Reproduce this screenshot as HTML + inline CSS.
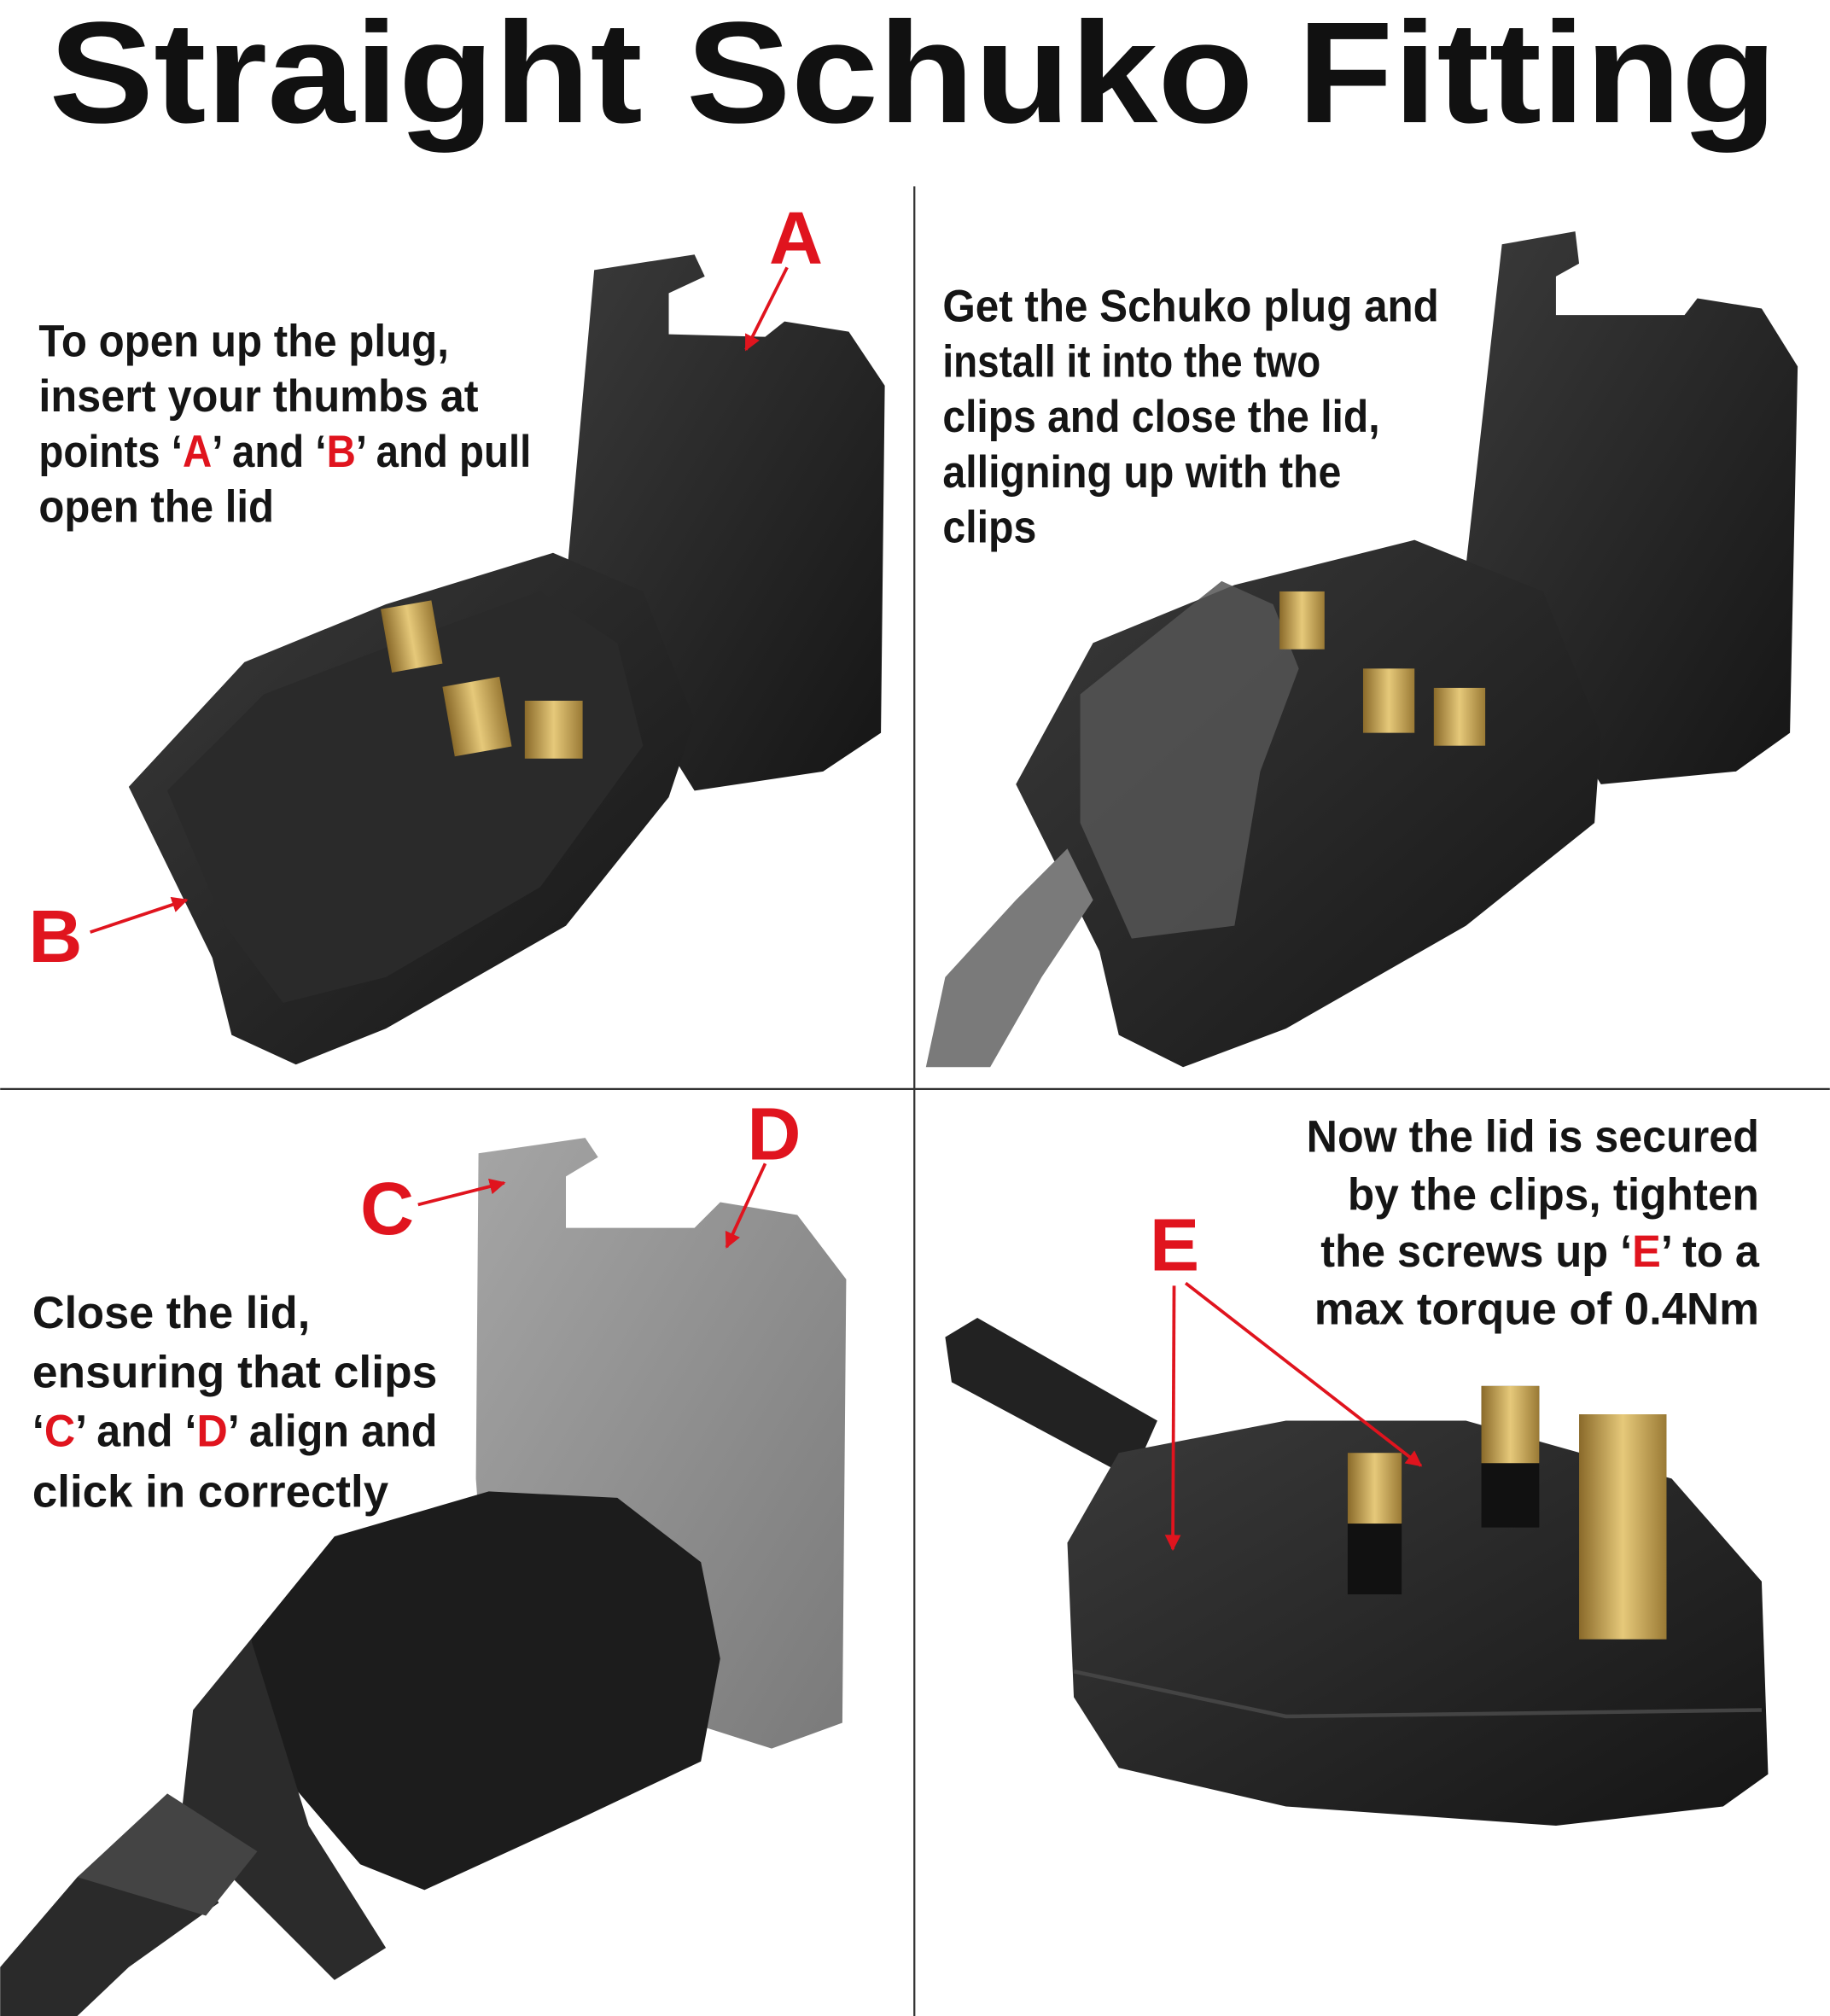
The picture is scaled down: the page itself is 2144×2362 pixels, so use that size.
<!DOCTYPE html>
<html><head><meta charset="utf-8"><style>
html,body{margin:0;padding:0;background:#fff;}
svg{display:block}
.t{font-family:"Liberation Sans",sans-serif;font-size:35px;font-weight:bold;fill:#151515;}
.r{fill:#e0141e}
.L{font-family:"Liberation Sans",sans-serif;font-weight:bold;font-size:58px;fill:#e0141e;}
</style></head><body>
<svg width="2144" height="2362" viewBox="0 0 1423 1568" xmlns="http://www.w3.org/2000/svg">
<defs>
<marker id="ah" viewBox="0 0 10 10" refX="9" refY="5" markerWidth="5" markerHeight="5" orient="auto"><path d="M0,0L10,5L0,10z" fill="#e0141e"/></marker>
<linearGradient id="dk" x1="0" y1="0" x2="1" y2="1"><stop offset="0" stop-color="#3a3a3a"/><stop offset="1" stop-color="#151515"/></linearGradient>
<linearGradient id="gr" x1="0" y1="0" x2="1" y2="1"><stop offset="0" stop-color="#a5a5a5"/><stop offset="1" stop-color="#7a7a7a"/></linearGradient>
<linearGradient id="gd" x1="0" y1="0" x2="1" y2="0"><stop offset="0" stop-color="#8a6a2a"/><stop offset=".5" stop-color="#e6c97a"/><stop offset="1" stop-color="#9a7a35"/></linearGradient>
</defs>
<rect width="1423" height="1568" fill="#fff"/>
<text x="38" y="95" font-family="Liberation Sans,sans-serif" font-weight="bold" font-size="112" fill="#111" textLength="1344" lengthAdjust="spacingAndGlyphs">Straight Schuko Fitting</text>
<line x1="711" y1="145" x2="711" y2="1568" stroke="#333" stroke-width="1.5"/>
<line x1="0" y1="847" x2="1423" y2="847" stroke="#333" stroke-width="1.5"/>

<path d="M462,210 L540,198 L548,215 L520,228 L520,260 L595,262 L610,250 L660,258 L688,300 L685,570 L640,600 L540,615 L440,455 Z" fill="url(#dk)"/>
<path d="M100,612 L190,515 L300,470 L430,430 L500,460 L540,560 L520,620 L440,720 L300,800 L230,828 L180,805 L165,745 Z" fill="url(#dk)"/>
<path d="M130,615 L205,540 L310,500 L420,460 L480,500 L500,580 L420,690 L300,760 L220,780 L175,720 Z" fill="#2a2a2a"/>
<rect x="300" y="470" width="40" height="50" fill="url(#gd)" transform="rotate(-10 320 495)"/>
<rect x="348" y="530" width="45" height="55" fill="url(#gd)" transform="rotate(-10 370 555)"/>
<rect x="408" y="545" width="45" height="45" fill="url(#gd)"/>

<path d="M1168,190 L1225,180 L1228,205 L1210,215 L1210,245 L1310,245 L1320,232 L1370,240 L1398,285 L1392,570 L1350,600 L1245,610 L1140,440 Z" fill="url(#dk)"/>
<path d="M790,610 L850,500 L960,455 L1100,420 L1200,460 L1245,570 L1240,640 L1140,720 L1000,800 L920,830 L870,805 L855,740 Z" fill="url(#dk)"/>
<path d="M840,540 L950,452 L990,470 L1010,520 L980,600 L960,720 L880,730 L840,640 Z" fill="#555" opacity=".85"/>
<path d="M720,830 L735,760 L790,700 L830,660 L850,700 L810,760 L770,830 Z" fill="#7a7a7a"/>
<rect x="995" y="460" width="35" height="45" fill="url(#gd)"/>
<rect x="1060" y="520" width="40" height="50" fill="url(#gd)"/>
<rect x="1115" y="535" width="40" height="45" fill="url(#gd)"/>

<path d="M372,897 L455,885 L465,900 L440,915 L440,955 L540,955 L560,935 L620,945 L658,995 L655,1340 L600,1360 L380,1290 L370,1150 Z" fill="url(#gr)"/>
<path d="M195,1275 L260,1195 L380,1160 L480,1165 L545,1215 L560,1290 L545,1370 L450,1415 L330,1470 L280,1450 L220,1380 Z" fill="#1c1c1c"/>
<path d="M150,1330 L195,1275 L240,1420 L300,1515 L260,1540 L200,1480 L140,1420 Z" fill="#2b2b2b"/>
<path d="M0,1568 L0,1530 L60,1460 L110,1420 L150,1440 L170,1480 L100,1530 L60,1568 Z" fill="#2a2a2a"/>
<path d="M60,1460 L130,1395 L200,1440 L160,1490 Z" fill="#444"/>

<path d="M735,1040 L760,1025 L900,1105 L880,1150 L740,1075 Z" fill="#222"/>
<path d="M830,1200 L870,1130 L1000,1105 L1140,1105 L1300,1150 L1370,1230 L1375,1380 L1340,1405 L1210,1420 L1000,1405 L870,1375 L835,1320 Z" fill="url(#dk)"/>
<path d="M835,1300 L1000,1335 L1370,1330" fill="none" stroke="#444" stroke-width="3"/>
<rect x="1048" y="1130" width="42" height="110" fill="#111"/>
<rect x="1048" y="1130" width="42" height="55" fill="url(#gd)"/>
<rect x="1152" y="1078" width="45" height="110" fill="#111"/>
<rect x="1152" y="1078" width="45" height="60" fill="url(#gd)"/>
<rect x="1228" y="1100" width="68" height="175" fill="url(#gd)"/>

<g class="t">
<text x="30" y="277" textLength="319" lengthAdjust="spacingAndGlyphs">To open up the plug,</text>
<text x="30" y="320" textLength="342" lengthAdjust="spacingAndGlyphs">insert your thumbs at</text>
<text x="30" y="363" textLength="383" lengthAdjust="spacingAndGlyphs">points ‘<tspan class="r">A</tspan>’  and ‘<tspan class="r">B</tspan>’ and pull</text>
<text x="30" y="406" textLength="183" lengthAdjust="spacingAndGlyphs">open the lid</text>
<text x="733" y="250" textLength="386" lengthAdjust="spacingAndGlyphs">Get the Schuko plug and</text>
<text x="733" y="293" textLength="294" lengthAdjust="spacingAndGlyphs">install it into the two</text>
<text x="733" y="336" textLength="340" lengthAdjust="spacingAndGlyphs">clips and close the lid,</text>
<text x="733" y="379" textLength="310" lengthAdjust="spacingAndGlyphs">alligning up with the</text>
<text x="733" y="422" textLength="73" lengthAdjust="spacingAndGlyphs">clips</text>
<text x="25" y="1033" textLength="216" lengthAdjust="spacingAndGlyphs">Close the lid,</text>
<text x="25" y="1079" textLength="315" lengthAdjust="spacingAndGlyphs">ensuring that clips</text>
<text x="25" y="1125" textLength="315" lengthAdjust="spacingAndGlyphs">‘<tspan class="r">C</tspan>’ and ‘<tspan class="r">D</tspan>’ align and</text>
<text x="25" y="1172" textLength="277" lengthAdjust="spacingAndGlyphs">click in correctly</text>
<text x="1016" y="896" textLength="352" lengthAdjust="spacingAndGlyphs">Now the lid is secured</text>
<text x="1048" y="941" textLength="320" lengthAdjust="spacingAndGlyphs">by the clips, tighten</text>
<text x="1027" y="985" textLength="341" lengthAdjust="spacingAndGlyphs">the screws up ‘<tspan class="r">E</tspan>’ to a</text>
<text x="1022" y="1030" textLength="346" lengthAdjust="spacingAndGlyphs">max torque of 0.4Nm</text>
</g>

<text class="L" x="598" y="205">A</text>
<line x1="612" y1="208" x2="580" y2="272" stroke="#e0141e" stroke-width="2.5" marker-end="url(#ah)"/>
<text class="L" x="22" y="748">B</text>
<line x1="70" y1="725" x2="145" y2="700" stroke="#e0141e" stroke-width="2.5" marker-end="url(#ah)"/>
<text class="L" x="280" y="960">C</text>
<line x1="325" y1="937" x2="392" y2="920" stroke="#e0141e" stroke-width="2.5" marker-end="url(#ah)"/>
<text class="L" x="581" y="902">D</text>
<line x1="595" y1="905" x2="565" y2="970" stroke="#e0141e" stroke-width="2.5" marker-end="url(#ah)"/>
<text class="L" x="894" y="988">E</text>
<line x1="913" y1="1000" x2="912" y2="1205" stroke="#e0141e" stroke-width="2.5" marker-end="url(#ah)"/>
<line x1="922" y1="998" x2="1105" y2="1140" stroke="#e0141e" stroke-width="2.5" marker-end="url(#ah)"/>
</svg>
</body></html>
